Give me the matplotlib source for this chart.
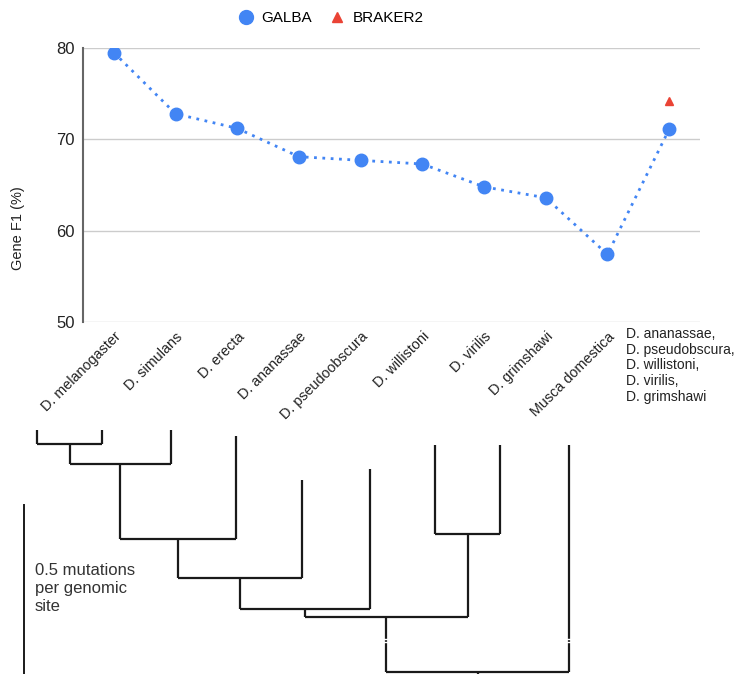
import numpy as np
import matplotlib
matplotlib.use('Agg')
import matplotlib.pyplot as plt
from matplotlib.transforms import ScaledTranslation
from matplotlib.lines import Line2D

plt.rcParams['font.family'] = ['Liberation Sans', 'DejaVu Sans']

# chart data
species = ['D. melanogaster', 'D. simulans', 'D. erecta', 'D. ananassae',
           'D. pseudoobscura', 'D. willistoni', 'D. virilis', 'D. grimshawi',
           'Musca domestica',
           'D. ananassae,\nD. pseudobscura,\nD. willistoni,\nD. virilis,\nD. grimshawi']
galba = [79.5, 72.8, 71.2, 68.1, 67.7, 67.3, 64.8, 63.6, 57.4, 71.1]
braker2_idx = [9]
braker2 = [74.2]

# tree (figure pixel coords): tips and internal joins (left, right, height)
tip_x = [37, 102, 171, 236, 302, 370, 435, 500, 569]
tip_top = [430, 430, 430, 436, 480, 469, 445, 445, 445]
joins = [(0, 1, 444), (9, 2, 464), (10, 3, 539), (11, 4, 578),
         (12, 5, 609), (6, 7, 534), (13, 14, 617), (15, 8, 672)]
breaks_at = [(15, 640), (8, 640)]

W, H = 734, 674
fig = plt.figure(figsize=(W / 100, H / 100), dpi=100)
ax = fig.add_axes([83 / W, 1 - 322 / H, 617 / W, 274 / H])

blue = '#4285F4'
red = '#EA4335'
x = np.arange(len(species))
ax.plot(x, galba, color=blue, ls=(0, (1, 2)), lw=2, zorder=2)
ax.plot(x, galba, 'o', color=blue, ms=9, zorder=3)
ax.plot(braker2_idx, braker2, '^', color=red, ms=6, zorder=3)

ax.set_xlim(-0.5, len(species) - 0.5)
ax.set_ylim(50, 80)
ax.set_yticks([50, 60, 70, 80])
ax.grid(axis='y', color='#cccccc', lw=1)
ax.set_axisbelow(True)
for s in ['top', 'right', 'bottom']:
    ax.spines[s].set_visible(False)
ax.spines['left'].set_color('#666666')
ax.spines['left'].set_linewidth(1.5)
ax.tick_params(axis='y', length=0, pad=6, labelsize=12, labelcolor='#222222')
ax.tick_params(axis='x', length=0, pad=9, labelsize=10.4, labelcolor='#222222')

ax.set_xticks(x)
ax.set_xticklabels(species[:-1] + [''], rotation=45, ha='right', va='center',
                   rotation_mode='anchor')
off = ScaledTranslation(0.05, 0, fig.dpi_scale_trans)
for lab in ax.get_xticklabels():
    lab.set_transform(lab.get_transform() + off)

ax.annotate(species[-1], xy=(x[-1], 50), xycoords='data', xytext=(-43, -5),
            textcoords='offset pixels', ha='left', va='top', fontsize=10,
            color='#222222', linespacing=1.15)

fig.text(18 / W, 1 - 228 / H, 'Gene F1 (%)', rotation=90, ha='center',
         va='center', fontsize=10.5, color='#222222')

handles = [Line2D([], [], marker='o', ls='', color=blue, ms=10),
           Line2D([], [], marker='^', ls='', color=red, ms=7)]
fig.legend(handles, ['GALBA', 'BRAKER2'], loc='center', ncol=2,
           bbox_to_anchor=(330 / W, 1 - 18 / H), frameon=False, fontsize=11,
           handletextpad=0.45, columnspacing=1.0, handlelength=1.2)

# tree overlay
tax = fig.add_axes([0, 0, 1, 1], zorder=-1)
tax.set_xlim(0, W)
tax.set_ylim(H, 0)
tax.axis('off')
nx = list(tip_x)
ny = list(tip_top)
kw = dict(color='#1a1a1a', lw=1.6, solid_capstyle='butt')
for l, r, h in joins:
    for c in (l, r):
        tax.plot([nx[c], nx[c]], [ny[c], h], **kw)
    tax.plot([nx[l], nx[r]], [h, h], **kw)
    nx.append((nx[l] + nx[r]) / 2)
    ny.append(h)
tax.plot([nx[-1], nx[-1]], [ny[-1], H], **kw)
for c, yb in breaks_at:
    tax.plot([nx[c] - 3, nx[c] + 3], [yb - 1.5, yb - 1.5], color='white', lw=1)
    tax.plot([nx[c] - 3, nx[c] + 3], [yb + 1.5, yb + 1.5], color='white', lw=1)

tax.plot([24, 24], [505, H], color='#1a1a1a', lw=1.4)
tax.text(35, 563, '0.5 mutations\nper genomic\nsite', ha='left', va='top',
         fontsize=12, color='#333333', linespacing=1.25)

fig.savefig('out.png', dpi=100)
